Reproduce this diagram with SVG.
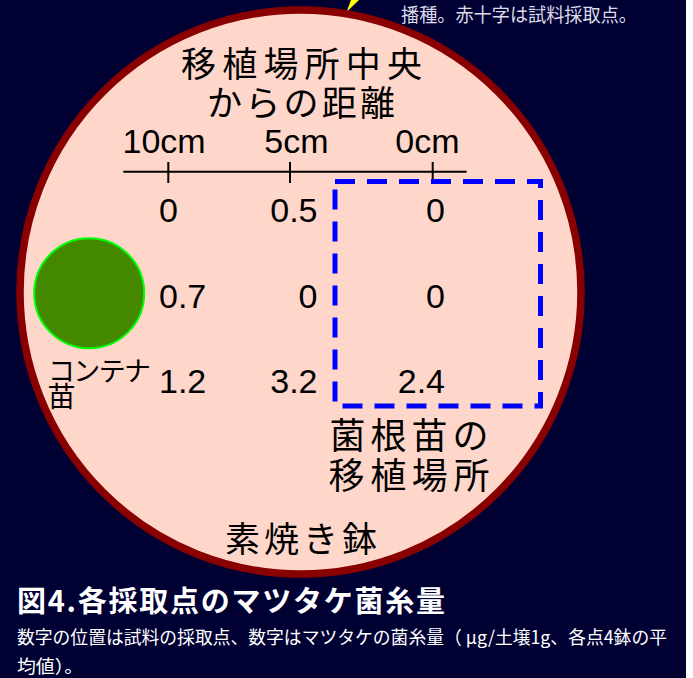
<svg xmlns="http://www.w3.org/2000/svg" width="693" height="678" viewBox="0 0 693 678">
<style>
.jp{font-family:"Noto Sans CJK JP","Noto Sans",sans-serif;fill:#000}
.num{font-family:"Liberation Sans",Arial,sans-serif;font-size:34px;fill:#000}
.cap{font-family:"Noto Sans CJK JP","Noto Sans",sans-serif;fill:#fff}
</style>
<rect x="0" y="0" width="693" height="678" fill="#ffffff"/>
<rect x="0" y="0" width="686" height="678" fill="#000033"/>
<polygon points="351,0 359,0 346.5,12" fill="#ffff00"/>
<text x="401" y="22" class="cap" font-size="19" style="fill:#dcdce8" textLength="236" lengthAdjust="spacingAndGlyphs">播種。赤十字は試料採取点。</text>
<g id="pot">
<ellipse cx="300.5" cy="292" rx="280.5" ry="282" fill="#ffd6ca" stroke="#880000" stroke-width="7.5"/>
<text x="225" y="552" class="jp" font-size="35" textLength="152" lengthAdjust="spacing">素焼き鉢</text>
</g>
<g id="axis">
<text x="181" y="77" class="jp" font-size="35" textLength="241" lengthAdjust="spacing">移植場所中央</text>
<text x="207" y="116" class="jp" font-size="35" textLength="188" lengthAdjust="spacing">からの距離</text>
<text x="122.5" y="153" class="num">10cm</text>
<text x="264.3" y="153" class="num">5cm</text>
<text x="395.3" y="153" class="num">0cm</text>
<g stroke="#000" stroke-width="2" fill="none">
<line x1="123.3" y1="171.7" x2="466.7" y2="171.7"/>
<line x1="168.3" y1="162" x2="168.3" y2="183"/>
<line x1="290" y1="162" x2="290" y2="183"/>
<line x1="432.7" y1="162" x2="432.7" y2="183"/>
</g>
</g>
<g id="transplant">
<rect x="335" y="181.5" width="205.5" height="224.5" fill="none" stroke="#0000ff" stroke-width="5" stroke-dasharray="20 12"/>
<text x="329.5" y="449" class="jp" font-size="36" textLength="159" lengthAdjust="spacing">菌根苗の</text>
<text x="328.5" y="489" class="jp" font-size="36" textLength="161" lengthAdjust="spacing">移植場所</text>
</g>
<g id="container">
<circle cx="89.2" cy="293.2" r="55" fill="#448800" stroke="#00ff00" stroke-width="2"/>
<text x="48" y="381" class="jp" font-size="27" textLength="103" lengthAdjust="spacing">コンテナ</text>
<text x="47.5" y="407" class="jp" font-size="28">苗</text>
</g>
<g id="values">
<text x="159" y="221.5" class="num">0</text>
<text x="317.5" y="221.5" class="num" text-anchor="end">0.5</text>
<text x="445" y="221.5" class="num" text-anchor="end">0</text>
<text x="159" y="308" class="num">0.7</text>
<text x="317.5" y="308" class="num" text-anchor="end">0</text>
<text x="445" y="308" class="num" text-anchor="end">0</text>
<text x="159" y="393" class="num">1.2</text>
<text x="317.5" y="393" class="num" text-anchor="end">3.2</text>
<text x="445" y="393" class="num" text-anchor="end">2.4</text>
</g>
<g id="caption">
<text x="17" y="612" class="cap" font-size="29" font-weight="bold" textLength="428" lengthAdjust="spacing">図4.各採取点のマツタケ菌糸量</text>
<text x="17" y="644" class="cap" font-size="18" textLength="650" lengthAdjust="spacingAndGlyphs">数字の位置は試料の採取点、数字はマツタケの菌糸量（ μg/土壌1g、各点4鉢の平</text>
<text x="17" y="673" class="cap" font-size="18" textLength="66" lengthAdjust="spacingAndGlyphs">均値）。</text>
</g>
</svg>
